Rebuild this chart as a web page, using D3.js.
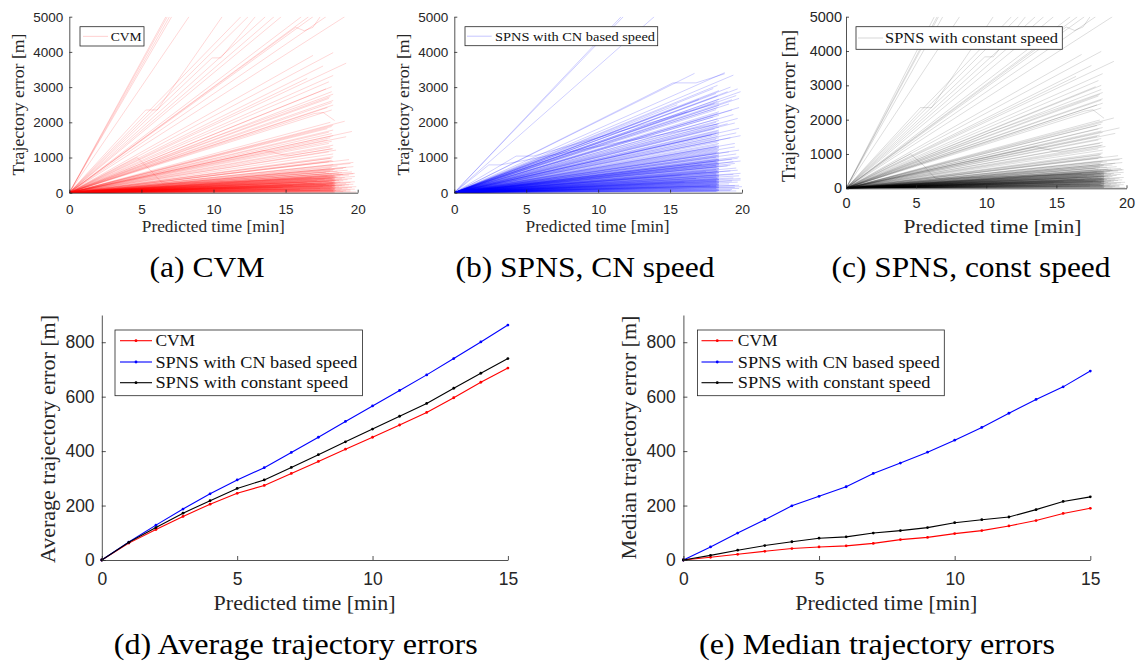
<!DOCTYPE html>
<html>
<head>
<meta charset="utf-8">
<script src="https://cdn.jsdelivr.net/npm/d3@7"></script>
<style>
  body { margin: 0; background: #fff; }
</style>
</head>
<body>
<svg id="fig" width="1138" height="664"></svg>
<script>
// ---------------------------------------------------------------
// Trajectory errors per predicted trajectory: [end time (min), end error (m)]
// ---------------------------------------------------------------
const cvmEnds = [
  [6.7,5000],[6.8,5000],[6.95,5000],[7.1,5000],[8.3,5000],
  [11.9,5000],[12.4,5000],[13.6,5000],[14.2,5000],[14.7,5000],[16.1,5000],[16.6,5000],[16.9,5000],[17.8,5000],[19.1,5000],
  [16.9,3900],[18.3,3980],[19.2,3680],[17.6,3600],[18.3,3330],[16.5,3250],[18.0,3150],[18.2,3010],[17.8,2950],[18.2,2870],
  [18.1,2730],[18.0,2680],[18.3,2620],[18.2,2560],[18.3,2490],[17.9,2420],[18.2,2350],
  [19.1,2030],[19.6,1740],[19.2,1590],[18.3,1920],[18.1,2000],[18.2,1880],[17.9,1820],[18.3,1780],[18.0,1720],[18.2,1680],
  [18.3,1620],[18.1,1560],[17.9,1500],[18.2,1460],[18.0,1400],[18.3,1350],[18.1,1300],[18.2,1250],[18.5,1210],[18.0,1160],
  [18.3,1100],[18.3,1020],[18.1,980],[18.2,920],[18.0,880],[19.5,830],[18.3,800],[19.7,740],[18.2,720],[19.0,690],
  [18.4,660],[19.3,640],[18.6,610],[19.6,590],[18.9,570],[19.8,550]
];
const cvmKinks = [
  [[0,0],[5.3,2350],[6.1,2350],[10.6,5000]],
  [[0,0],[9.9,3830],[10.5,3830],[12.9,5000]],
  [[0,0],[15.7,4700],[16.3,4600],[16.9,4700],[17.4,5000]],
  [[0,0],[4.7,1000],[5.6,650],[6.5,250],[18.3,420]],
  [[0,0],[17.0,2250],[17.6,2280],[18.4,2050]],
  [[0,0],[8.7,1350],[10.2,1600],[18.3,2800]],
  [[0,0],[13.5,1200],[15.2,1050],[18.3,1250]]
];
const cvmLow = [
  [18.4,15],[18.3,30],[18.4,45],[18.5,60],[18.3,75],[18.4,90],[18.2,105],[18.4,120],[18.5,135],[18.3,150],
  [18.4,160],[18.2,175],[18.4,190],[18.5,200],[18.3,215],[18.4,230],[18.2,240],[18.4,255],[18.5,270],[18.3,285],
  [18.4,300],[18.2,315],[18.4,330],[18.5,345],[18.3,360],[18.4,380],[18.2,400],[18.4,420],[18.5,445],[18.3,470],
  [18.4,495],[18.2,520],[18.0,550],[17.8,580],[18.1,610],[18.3,65],[18.1,110],[18.2,165],[18.0,210],[18.3,260],
  [17.6,180],[17.8,230],[17.5,280],[18.0,330],[17.7,380],[18.1,430],[17.4,120],[17.9,470],[16.8,420],[17.2,350],
  [19.0,30],[19.2,55],[19.5,80],[19.8,100],[19.3,130],[19.6,150],[19.9,170],[19.1,200],[19.4,220],[19.7,240],
  [19.2,260],[19.5,290],[19.8,310],[19.0,340],[19.3,370],[19.6,400],[19.1,430],[19.8,460],[19.4,500],[19.7,540],
  [19.9,20],[19.5,45],[18.8,70],[18.9,115],[18.7,165],[18.9,210],[18.6,255],[18.8,300],[18.7,350],[18.9,395],
  [18.6,440],[18.8,480],[19.0,520],[18.7,560],[16.5,300],[17.0,250],[15.5,200],[14.8,150],[16.0,100],[17.4,60],
  [18.4,10],[18.4,85],[18.4,125],[18.4,180],[18.4,205],[18.4,245],[18.4,290],[18.4,345],[18.4,400],[18.4,460],
  [18.3,640],[18.1,680],[19.2,720],[18.6,760],[19.7,860],[18.3,900],[19.4,940],[18.2,980]
];

const cnEnds = [
  [11.6,5000],[11.75,5000],[13.9,5000],
  [16.7,3390],[18.8,3410],[19.4,3340],[19.9,2870],[19.8,2680],[19.0,2870],[18.3,2750],[19.3,2350],[19.7,2110],
  [19.8,1830],[18.4,1730],[17.9,1640],[19.5,1400],[19.8,1210],[19.8,1020],
  [18.3,3050],[18.0,2960],[18.4,2900],[18.2,2820],[18.4,2660],[18.3,2600],[18.1,2540],[18.4,2480],[18.3,2420],[18.2,2360],
  [18.4,2300],[18.3,2250],[18.4,2200],[18.0,2150],[18.3,2100],[18.4,2050],[18.2,2000],[18.4,1960],[18.3,1910],[18.4,1860],
  [18.1,1810],[18.4,1780],[18.3,1750],[18.4,1700],[18.2,1680],[18.4,1650],[18.3,1600],[18.4,1560],[18.2,1520],[18.4,1480],
  [18.3,1440],[18.4,1400],[18.3,1360],[18.4,1330],[18.2,1300],[18.4,1270],[18.3,1240],[18.4,1200],[18.3,1170],[18.4,1140],
  [18.2,1110],[18.4,1080],[18.3,1050],[18.4,1020],
  [19.2,3000],[19.6,2760],[19.1,2520],[19.4,2220],[19.0,1960],[19.6,1700],[19.2,1560],[19.5,1300],[19.1,1160],
  [15.5,2500],[16.2,2300],[17.0,2650],[19.7,2950],[19.3,2640],[19.8,2420],[19.5,1980],[19.9,1620]
];
const cnKinks = [
  [[0,0],[2.4,790],[3.2,790],[18.3,1950]],
  [[0,0],[4.3,1040],[5.5,1040],[18.4,2550]],
  [[0,0],[15.2,3120],[16.8,3120],[18.8,3380]]
];
const cnLow = [
  [18.4,990],[18.3,960],[18.4,930],[18.2,900],[18.4,870],[18.3,840],[18.4,810],[18.2,780],[18.4,750],[18.3,720],
  [18.4,690],[18.2,660],[18.4,630],[18.3,600],[18.4,575],[18.2,550],[18.4,525],[18.3,500],[18.4,475],[18.2,450],
  [18.4,425],[18.3,400],[18.4,380],[18.2,360],[18.4,340],[18.3,320],[18.4,300],[18.2,280],[18.4,260],[18.3,240],
  [18.4,220],[18.2,200],[18.4,180],[18.3,160],[18.4,140],[18.2,120],[18.4,100],[18.3,80],[18.4,60],[18.2,40],
  [18.4,950],[18.3,880],[18.4,820],[18.3,760],[18.4,700],[18.3,640],[18.4,590],[18.3,540],[18.4,490],[18.3,440],
  [18.4,390],[18.3,350],[18.4,310],[18.3,270],[18.4,230],[18.3,190],[18.4,150],[18.3,110],[18.4,70],[18.3,30],
  [19.5,830],[19.9,550],[19.9,360],[20.0,170],[19.3,950],[19.6,700],[19.2,620],[19.8,480],[19.4,420],[19.7,300],
  [19.1,250],[19.5,200],[19.8,120],[19.3,90],[19.6,50],[19.0,760],[19.4,880],[19.7,980],[17.5,600],[16.8,400],
  [17.2,800],[16.0,300],[17.8,200],[15.8,500],
  [18.4,1290],[18.3,1150],[18.4,1060],[18.2,1010],[18.4,910],[18.3,850],[18.4,790],[18.2,730],[18.4,670],[18.3,610],
  [18.4,560],[18.2,510],[18.4,460],[18.3,410],[18.4,370],[18.2,330],[18.4,290],[18.3,250],[18.4,210],[18.2,170],
  [19.6,1100],[19.9,900],[19.2,780],[19.7,640],[19.4,520],[19.9,400],[19.3,330],[19.8,210],[19.5,150],[19.2,60]
];

const constEnds = [
  [6.3,5000],[6.5,5000],[6.6,5000],[6.9,5000],[8.1,5000],
  [11.8,5000],[12.3,5000],[13.5,5000],[14.1,5000],[14.8,5000],[16.0,5000],[16.5,5000],[17.0,5000],[17.8,5000],[19.0,5000],
  [16.8,3900],[18.2,3990],[19.1,3700],[17.5,3580],[18.3,3340],[16.4,3260],[18.0,3140],[18.2,3000],[17.8,2960],[18.2,2880],
  [18.1,2740],[18.0,2690],[18.3,2610],[18.2,2570],[18.3,2480],[17.9,2430],[18.2,2340],
  [19.1,2050],[19.5,1760],[19.2,1600],[18.3,1930],[18.1,1990],[18.2,1870],[17.9,1830],[18.3,1770],[18.0,1730],[18.2,1670],
  [18.3,1630],[18.1,1550],[17.9,1510],[18.2,1450],[18.0,1410],[18.3,1340],[18.1,1310],[18.2,1240],[18.5,1220],[18.0,1150],
  [18.3,1110],[18.3,1030],[18.1,970],[18.2,930],[18.0,870],[19.5,840],[18.3,790],[19.7,750],[18.2,730],[19.0,680],
  [18.4,670],[19.3,630],[18.6,620],[19.6,580],[18.9,560],[19.8,540]
];
const constKinks = [
  [[0,0],[5.3,2350],[6.1,2350],[10.5,5000]],
  [[0,0],[9.9,3830],[10.5,3830],[12.8,5000]],
  [[0,0],[15.7,4700],[16.3,4600],[16.9,4700],[17.4,5000]],
  [[0,0],[4.6,1000],[5.5,680],[6.4,280],[18.3,430]],
  [[0,0],[17.0,2250],[17.6,2290],[18.4,2040]],
  [[0,0],[8.7,1360],[10.2,1620],[18.3,2790]],
  [[0,0],[13.5,1210],[15.2,1060],[18.3,1260]]
];
const constLow = [
  [18.4,20],[18.3,35],[18.4,50],[18.5,65],[18.3,80],[18.4,95],[18.2,110],[18.4,125],[18.5,140],[18.3,155],
  [18.4,165],[18.2,180],[18.4,195],[18.5,205],[18.3,220],[18.4,235],[18.2,245],[18.4,260],[18.5,275],[18.3,290],
  [18.4,305],[18.2,320],[18.4,335],[18.5,350],[18.3,365],[18.4,385],[18.2,405],[18.4,425],[18.5,450],[18.3,475],
  [18.4,500],[18.2,525],[18.0,555],[17.8,585],[18.1,615],[18.3,70],[18.1,115],[18.2,170],[18.0,215],[18.3,265],
  [17.6,185],[17.8,235],[17.5,285],[18.0,335],[17.7,385],[18.1,435],[17.4,125],[17.9,475],[16.8,425],[17.2,355],
  [19.0,35],[19.2,60],[19.5,85],[19.8,105],[19.3,135],[19.6,155],[19.9,175],[19.1,205],[19.4,225],[19.7,245],
  [19.2,265],[19.5,295],[19.8,315],[19.0,345],[19.3,375],[19.6,405],[19.1,435],[19.8,465],[19.4,505],[19.7,545],
  [19.9,25],[19.5,50],[18.8,75],[18.9,120],[18.7,170],[18.9,215],[18.6,260],[18.8,305],[18.7,355],[18.9,400],
  [18.6,445],[18.8,485],[19.0,525],[18.7,565],[16.5,305],[17.0,255],[15.5,205],[14.8,155],[16.0,105],[17.4,65],
  [18.4,12],[18.4,88],[18.4,130],[18.4,185],[18.4,210],[18.4,250],[18.4,295],[18.4,350],[18.4,405],[18.4,465],
  [18.3,650],[18.1,690],[19.2,730],[18.6,770],[19.7,870],[18.3,910],[19.4,950],[18.2,990]
];

// ---------------------------------------------------------------
// Aggregated errors per predicted minute
// ---------------------------------------------------------------
const minutes = [0,1,2,3,4,5,6,7,8,9,10,11,12,13,14,15];
const avgCVM       = [0,62,112,160,205,245,274,318,362,407,451,496,542,596,653,705];
const avgSpnsCN    = [0,66,128,187,243,294,339,395,451,509,566,623,680,740,801,863];
const avgSpnsConst = [0,65,119,172,218,263,294,340,387,434,481,528,575,631,686,740];
const medCVM       = [0,10,21,32,42,48,52,61,75,83,97,108,125,145,171,190];
const medSpnsCN    = [0,48,99,148,199,234,269,318,356,396,440,487,539,590,636,694];
const medSpnsConst = [0,17,36,53,67,80,85,99,108,119,137,148,158,185,215,232];

const seriesNames = ['CVM', 'SPNS with CN based speed', 'SPNS with constant speed'];
const seriesColors = ['#ff0000', '#0000ff', '#000000'];

const topXTicks = [0,5,10,15,20];
const topYTicks = [0,1000,2000,3000,4000,5000];
const botXTicks = [0,5,10,15];
const botYTicks = [0,200,400,600,800];

const captions = ['(a) CVM', '(b) SPNS, CN speed', '(c) SPNS, const speed',
                  '(d) Average trajectory errors', '(e) Median trajectory errors'];

// ---------------------------------------------------------------
const svg = d3.select('#fig');
const AXIS = '#262626';
const SERIF = '"Liberation Serif", "Times New Roman", serif';
const SANS = '"Liberation Sans", Arial, Helvetica, sans-serif';

function serifText(str, x, y, size, width, opt = {}) {
  const t = svg.append('text')
    .style('font-family', SERIF)
    .style('font-size', size + 'px')
    .attr('fill', opt.fill || AXIS)
    .attr('text-anchor', opt.anchor || 'middle')
    .attr('dominant-baseline', opt.baseline || 'central')
    .attr('textLength', width).attr('lengthAdjust', 'spacingAndGlyphs')
    .text(str);
  if (opt.rotate) t.attr('transform', `translate(${x},${y}) rotate(-90)`);
  else t.attr('x', x).attr('y', y);
  return t;
}

function drawAxes(x, y, xTicks, yTicks, o) {
  const gx = svg.append('g').attr('transform', `translate(0,${y.range()[0]})`)
    .call(d3.axisBottom(x).tickValues(xTicks).tickFormat(d3.format('d'))
      .tickSizeInner(-o.tick).tickSizeOuter(0).tickPadding(o.xPad));
  const gy = svg.append('g').attr('transform', `translate(${x.range()[0]},0)`)
    .call(d3.axisLeft(y).tickValues(yTicks).tickFormat(d3.format('d'))
      .tickSizeInner(-o.tick).tickSizeOuter(0).tickPadding(o.yPad));
  [gx, gy].forEach(g => {
    g.select('.domain').attr('stroke', AXIS).attr('stroke-width', 0.8);
    g.selectAll('.tick line').attr('stroke', AXIS).attr('stroke-width', 0.8);
    g.selectAll('text').style('font-family', SANS).style('font-size', o.font + 'px').attr('fill', AXIS);
  });
}

// ---------- top row: individual trajectory errors ----------
function trajPanel(c) {
  const x = d3.scaleLinear().domain([0, 20]).range([c.x0, c.x1]);
  const y = d3.scaleLinear().domain([0, 5000]).range([c.y0, c.y1]);
  const clipId = 'clip-' + c.id;
  svg.append('clipPath').attr('id', clipId).append('rect')
    .attr('x', c.x0).attr('y', c.y1).attr('width', c.x1 - c.x0 + 2).attr('height', c.y0 - c.y1);
  const line = d3.line().x(d => x(d[0])).y(d => y(d[1]));
  const paths = [
    ...c.ends.map(e => [[0, 0], e]),
    ...c.kinks,
    ...c.low.map(e => [[0, 0], e])
  ];
  svg.append('g').attr('clip-path', `url(#${clipId})`)
    .selectAll('path').data(paths).join('path')
    .attr('d', line).attr('fill', 'none')
    .attr('stroke', c.color).attr('stroke-opacity', c.alpha).attr('stroke-width', 0.8);

  drawAxes(x, y, topXTicks, topYTicks, c.axis);

  serifText('Predicted time [min]', c.xt[0], c.xt[1], c.titleSize, c.xt[2]);
  serifText('Trajectory error [m]', c.yt[0], c.yt[1], c.titleSize, c.yt[2], { rotate: true });

  // legend
  const L = c.legend;
  svg.append('rect').attr('x', L.box[0]).attr('y', L.box[1])
    .attr('width', L.box[2] - L.box[0]).attr('height', L.box[3] - L.box[1])
    .attr('fill', '#fff').attr('stroke', AXIS).attr('stroke-width', 0.8);
  const ly = (L.box[1] + L.box[3]) / 2;
  svg.append('line').attr('x1', L.line[0]).attr('x2', L.line[1]).attr('y1', ly).attr('y2', ly)
    .attr('stroke', c.color).attr('stroke-opacity', c.alpha * 1.2).attr('stroke-width', 0.8);
  serifText(c.name, L.text[0], ly, L.size, L.text[1], { anchor: 'start', fill: '#111' });
}

trajPanel({
  id: 'a', name: seriesNames[0], color: seriesColors[0], alpha: 0.2,
  ends: cvmEnds, kinks: cvmKinks, low: cvmLow,
  x0: 69.3, x1: 357.7, y0: 192.7, y1: 16.7,
  axis: { tick: 3, xPad: 12, yPad: 6, font: 13.5 },
  titleSize: 16, xt: [213.3, 226.5, 143], yt: [18.5, 104.5, 142],
  legend: { box: [80, 26.7, 144, 46], line: [83, 108], text: [110.7, 31], size: 13 }
});
trajPanel({
  id: 'b', name: seriesNames[1], color: seriesColors[1], alpha: 0.24,
  ends: cnEnds, kinks: cnKinks, low: cnLow,
  x0: 454.3, x1: 742, y0: 192.7, y1: 16.7,
  axis: { tick: 3, xPad: 12, yPad: 6, font: 13.5 },
  titleSize: 16, xt: [597.5, 226.5, 144], yt: [403, 104.5, 142],
  legend: { box: [465, 26.7, 657.7, 45.7], line: [467, 491.7], text: [495, 160], size: 13 }
});
trajPanel({
  id: 'c', name: seriesNames[2], color: seriesColors[2], alpha: 0.17,
  ends: constEnds, kinks: constKinks, low: constLow,
  x0: 846, x1: 1126.5, y0: 188.3, y1: 16.7,
  axis: { tick: 3, xPad: 9.5, yPad: 4, font: 14.5 },
  titleSize: 19, xt: [992.5, 226.5, 178], yt: [788.5, 106, 152],
  legend: { box: [856, 26.7, 1062.3, 49.3], line: [858, 883], text: [885, 173], size: 15 }
});

// ---------- bottom row: average / median ----------
function summaryPanel(c) {
  const x = d3.scaleLinear().domain([0, 15]).range([c.x0, c.x1]);
  const y = d3.scaleLinear().domain([0, 900]).range([560, 315]);
  const line = d3.line().x((d, i) => x(minutes[i])).y(d => y(d));
  c.series.forEach((s, k) => {
    svg.append('path').datum(s).attr('d', line).attr('fill', 'none')
      .attr('stroke', seriesColors[k]).attr('stroke-width', 1.1);
    svg.append('g').selectAll('circle').data(s).join('circle')
      .attr('cx', (d, i) => x(minutes[i])).attr('cy', d => y(d)).attr('r', 1.4)
      .attr('fill', seriesColors[k]);
  });

  drawAxes(x, y, botXTicks, botYTicks, { tick: 4, xPad: 13, yPad: c.yPad, font: 17.5 });

  serifText('Predicted time [min]', c.xt[0], 602.7, 20, 182);
  serifText(c.yTitle, c.yt[0], c.yt[1], 20, c.yt[2], { rotate: true });

  const L = c.legend;
  svg.append('rect').attr('x', L.box[0]).attr('y', 330)
    .attr('width', L.box[1] - L.box[0]).attr('height', 65.7)
    .attr('fill', '#fff').attr('stroke', AXIS).attr('stroke-width', 0.8);
  const rows = [340.7, 362, 382.7];
  const widths = [39.7, 202, 192.7];
  seriesNames.forEach((n, k) => {
    svg.append('line').attr('x1', L.line[0]).attr('x2', L.line[1])
      .attr('y1', rows[k]).attr('y2', rows[k])
      .attr('stroke', seriesColors[k]).attr('stroke-width', 1.1);
    svg.append('circle').attr('cx', (L.line[0] + L.line[1]) / 2).attr('cy', rows[k])
      .attr('r', 1.4).attr('fill', seriesColors[k]);
    serifText(n, L.text, rows[k], 16.6, widths[k], { anchor: 'start', fill: '#111' });
  });
}

summaryPanel({
  series: [avgCVM, avgSpnsCN, avgSpnsConst],
  x0: 101.8, x1: 507.9, yPad: 7.2,
  yTitle: 'Average trajectory error [m]', xt: [304.6], yt: [47.5, 439, 248],
  legend: { box: [115, 362.5], line: [120, 152], text: 155.4 }
});
summaryPanel({
  series: [medCVM, medSpnsCN, medSpnsConst],
  x0: 683.4, x1: 1090.3, yPad: 7.6,
  yTitle: 'Median trajectory error [m]', xt: [886.3], yt: [628.5, 437.5, 244],
  legend: { box: [697.5, 944.3], line: [701.5, 733], text: 737.8 }
});

// ---------- sub-figure captions ----------
const capPos = [[207, 277, 115], [585, 277, 259], [971, 277, 279], [295.7, 654, 364], [877, 654, 356]];
captions.forEach((t, i) => {
  serifText(t, capPos[i][0], capPos[i][1], 28.5, capPos[i][2], { baseline: 'alphabetic', fill: '#000' });
});
</script>
</body>
</html>
